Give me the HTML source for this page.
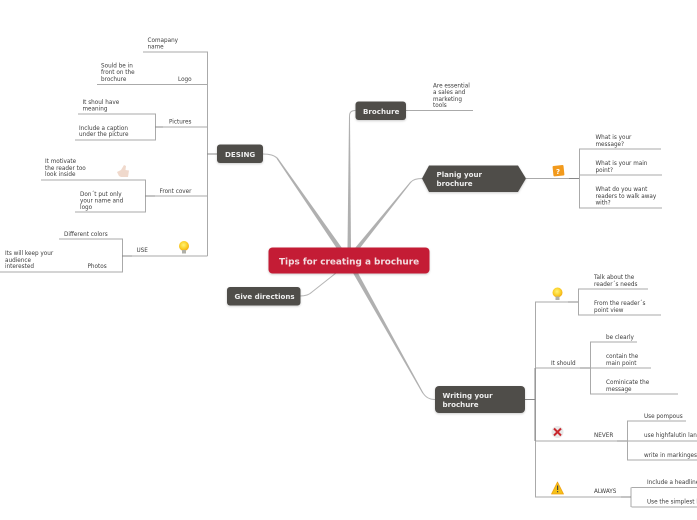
<!DOCTYPE html>
<html><head><meta charset="utf-8"><style>
html,body{margin:0;padding:0;background:#fff;width:697px;height:520px;overflow:hidden}
svg{display:block}
text{font-family:"DejaVu Sans",sans-serif;font-size:5.7px;fill:#3c3c3c}
.n{font-weight:bold;font-size:7.1px;fill:#eee}
.l{fill:none;stroke:#aaa;stroke-width:1}
.d{fill:none;stroke:#888;stroke-width:1}
</style></head><body>
<svg width="697" height="520" viewBox="0 0 697 520" xmlns="http://www.w3.org/2000/svg">
<defs>
<filter id="s" x="-10%" y="-20%" width="120%" height="140%"><feDropShadow dx="0" dy="1" stdDeviation="1" flood-color="#000" flood-opacity=".2"/></filter>
<radialGradient id="b" cx=".45" cy=".4" r=".6"><stop offset="0" stop-color="#fff27a"/><stop offset=".6" stop-color="#fbd22a"/><stop offset="1" stop-color="#f2a914"/></radialGradient>
</defs>
<!-- central connectors -->
<g fill="#b0b0b0">
<path d="M336.500 248L342 248L277.500 157.500L276.500 158.500Z"/>
<path d="M347.500 248L351 248L350 116L349 116Z"/>
<path d="M355 248L360 248L411.500 182L410.500 181.500Z"/>
<path d="M353 273L358 273L423.500 393L422.500 393.500Z"/>
</g>
<g fill="none" stroke="#b5b5b5" stroke-linecap="round" stroke-width="1">
<path d="M277 158 Q273 154 263 154"/>
<path d="M349.500 116 Q349.500 110.500 355 110.500"/>
<path d="M411 182 Q414 178.500 422 178.500"/>
<path d="M336 273 L312 292 Q308 296 300 296"/>
<path d="M423 393 Q427 399.500 435 399.500"/>
</g>
<!-- left branch -->
<g class="l">
<path d="M143 52H207.500V256M97 84.500H207M155 127H207M78 114H155.500V140H75M145 196H207M41 180H145.500V212H75M122 256H207.500M59 239H122.500V272H0"/>
</g>
<path class="d" d="M207 154H217M155 127H163M145 196H155M122 256H132"/>
<!-- right top -->
<g class="l">
<path d="M406 110.500H473M526 178.500H579M661 149H579.500V208H662M579 175H662"/>
</g>
<path class="d" d="M569 178.500H579"/>
<!-- right bottom -->
<g class="l">
<path d="M578 302H535.500V497H631M648 289H578.500V315H661M535 368H590M637 342H590.500V394H678M651 368H590M535 441H627M686 421H627.500V460H697M627 441H697M631 487.500V507M631.500 487.500H697M631.500 507H697"/>
</g>
<path class="d" d="M525 399.500H535M535 368V441M568 302H578M580 368H590M617 441H627M621 497H631"/>
<!-- nodes -->
<rect x="268.500" y="247.500" width="161" height="26" rx="4" fill="#c41f35" filter="url(#s)"/>
<text x="279" y="264.500" class="n" style="font-size:8.9px;fill:#f3dde0">Tips for creating a brochure</text>
<rect x="217" y="144.500" width="46" height="18.500" rx="3" fill="#4f4d4a" filter="url(#s)"/>
<text x="225" y="157" class="n">DESING</text>
<rect x="355.500" y="101.500" width="50.500" height="18.500" rx="3" fill="#4f4d4a" filter="url(#s)"/>
<text x="363" y="114" class="n">Brochure</text>
<path d="M429 165.500H518L526 178.500L518 192H429L422 178.500Z" fill="#4f4d4a" filter="url(#s)"/>
<text x="436.500" y="177" class="n">Planig your</text>
<text x="436.500" y="186" class="n">brochure</text>
<rect x="227" y="287" width="73.500" height="18.500" rx="3" fill="#4f4d4a" filter="url(#s)"/>
<text x="234.500" y="299" class="n">Give directions</text>
<rect x="435" y="386" width="90" height="27" rx="4" fill="#4f4d4a" filter="url(#s)"/>
<text x="442.500" y="398" class="n">Writing your</text>
<text x="442.500" y="407" class="n">brochure</text>
<!-- labels left -->
<text x="147.500" y="42">Comapany</text><text x="147.500" y="48.500">name</text>
<text x="101" y="67.500">Sould be in</text><text x="101" y="74">front on the</text><text x="101" y="81">brochure</text>
<text x="178" y="81">Logo</text>
<text x="82.500" y="104">It shoul have</text><text x="82.500" y="110.500">meaning</text>
<text x="79" y="130">Include a caption</text><text x="79" y="136">under the picture</text>
<text x="169" y="123.500">Pictures</text>
<text x="45" y="163">It motivate</text><text x="45" y="170">the reader too</text><text x="45" y="176">look inside</text>
<text x="80" y="196">Don´t put only</text><text x="80" y="202.500">your name and</text><text x="80" y="209">logo</text>
<text x="159.500" y="193">Front cover</text>
<text x="64" y="236">Different colors</text>
<text x="5" y="255">Its will keep your</text><text x="5" y="262">audience</text><text x="5" y="268">interested</text>
<text x="87.500" y="268">Photos</text>
<text x="136.500" y="252">USE</text>
<!-- labels right top -->
<text x="433" y="87.500">Are essential</text><text x="433" y="94">a sales and</text><text x="433" y="101">marketing</text><text x="433" y="107">tools</text>
<text x="595.500" y="139">What is your</text><text x="595.500" y="146">message?</text>
<text x="595.500" y="165">What is your main</text><text x="595.500" y="172">point?</text>
<text x="595.500" y="191">What do you want</text><text x="595.500" y="198">readers to walk away</text><text x="595.500" y="204.500">with?</text>
<!-- labels right bottom -->
<text x="594" y="279">Talk about the</text><text x="594" y="286">reader´s needs</text>
<text x="594" y="305">From the reader´s</text><text x="594" y="312">point view</text>
<text x="551" y="365">It should</text>
<text x="606" y="339">be clearly</text>
<text x="606" y="358">contain the</text><text x="606" y="365">main point</text>
<text x="606" y="384">Cominicate the</text><text x="606" y="391">message</text>
<text x="594" y="437">NEVER</text>
<text x="644" y="418">Use pompous</text>
<text x="644" y="437">use highfalutin lang</text>
<text x="644" y="457">write in markingese</text>
<text x="594" y="493">ALWAYS</text>
<text x="647" y="484">Include a headline</text>
<text x="647" y="503.500">Use the simplest l</text>
<!-- icons -->
<g>
<path d="M119 176L117 172L121 170L124 165L126 166L125.500 170L129 170.500L128 177L121 177Z" fill="#f0d9cc"/>
<circle cx="184" cy="246" r="5" fill="url(#b)"/><rect x="182" y="250" width="4" height="3.500" fill="#b0b0a8"/>
<circle cx="557.500" cy="292.500" r="5" fill="url(#b)"/><rect x="555.500" y="296.500" width="4" height="3.500" fill="#b0b0a8"/>
<rect x="553" y="165.500" width="11" height="10.500" rx="1" fill="#f29a1c" transform="rotate(-6 558 171)"/>
<text x="558" y="174" text-anchor="middle" style="font-size:7px;font-weight:bold;fill:#fff">?</text>
<circle cx="557.500" cy="432" r="6" fill="#e8e8e8"/>
<path d="M554 428.500L561 435.500M561 428.500L554 435.500" stroke="#c8282e" stroke-width="2"/>
<path d="M557.500 482L563.500 494H551.500Z" fill="#f5c118" stroke="#f0a010" stroke-width=".8" stroke-linejoin="round"/>
<rect x="557" y="485.500" width="1.200" height="4.500" fill="#444"/><rect x="557" y="491" width="1.200" height="1.300" fill="#444"/>
</g>
</svg>
</body></html>
